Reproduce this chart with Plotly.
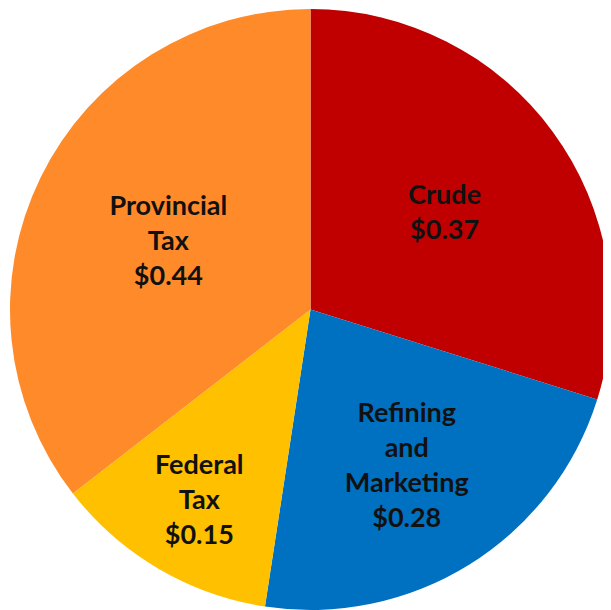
import plotly.graph_objects as go

labels = ["Crude", "Refining<br>and<br>Marketing", "Federal<br>Tax", "Provincial<br>Tax"]
values = [0.37, 0.28, 0.15, 0.44]
colors = ["#C00000", "#0070C0", "#FFC000", "#FF8A2A"]

fig = go.Figure(go.Pie(
    labels=labels,
    values=values,
    sort=False,
    direction="clockwise",
    rotation=0,
    marker=dict(colors=colors, line=dict(width=0)),
    texttemplate="%{label}<br>$%{value:.2f}",
    textposition="inside",
    insidetextorientation="horizontal",
    textfont=dict(family="Lato", size=27, color="#111111", weight="bold"),
    hoverinfo="label+value",
    showlegend=False,
))

fig.update_layout(
    width=611, height=610,
    margin=dict(l=2, r=8, t=1, b=8),
    paper_bgcolor="white",
    plot_bgcolor="white",
)

fig.write_html("out.html")
